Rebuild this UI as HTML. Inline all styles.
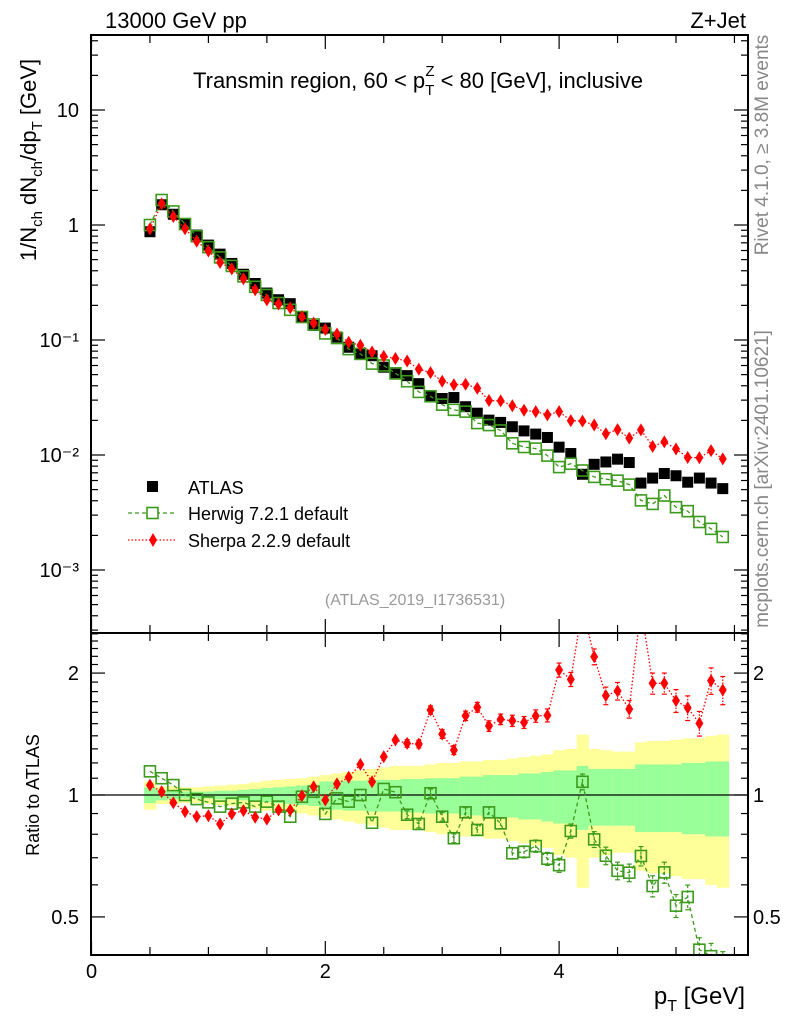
<!DOCTYPE html>
<html><head><meta charset="utf-8"><style>
html,body{margin:0;padding:0;background:#fff}
svg{display:block;font-family:"Liberation Sans",sans-serif}
</style></head><body>
<svg id="c" width="786" height="1024" viewBox="0 0 786 1024" xmlns="http://www.w3.org/2000/svg">
<g id="bands"></g>
<g id="grid"></g>
<g id="series"></g>
<g id="axes"></g>
<text x="105" y="28" font-size="22">13000 GeV pp</text>
<text x="746" y="28" font-size="22" text-anchor="end">Z+Jet</text>
<text x="418" y="88" font-size="22" text-anchor="middle">Transmin region, 60 &lt; p<tspan font-size="15" dy="7">T</tspan><tspan font-size="15" dx="-9" dy="-19">Z</tspan><tspan dy="12"> &lt; 80 [GeV], inclusive</tspan></text>
<text transform="translate(36,160) rotate(-90)" font-size="22" text-anchor="middle">1/N<tspan font-size="15" dy="6">ch</tspan><tspan dy="-6"> dN</tspan><tspan font-size="15" dy="6">ch</tspan><tspan dy="-6">/dp</tspan><tspan font-size="15" dy="6">T</tspan><tspan dy="-6"> [GeV]</tspan></text>
<text transform="translate(39,795) rotate(-90)" font-size="18" text-anchor="middle">Ratio to ATLAS</text>
<text transform="translate(768,145) rotate(-90)" font-size="19" fill="#888" text-anchor="middle">Rivet 4.1.0, ≥ 3.8M events</text>
<text transform="translate(768,479) rotate(-90)" font-size="19" fill="#888" text-anchor="middle">mcplots.cern.ch [arXiv:2401.10621]</text>
<text x="415" y="605" font-size="16" fill="#999" text-anchor="middle">(ATLAS_2019_I1736531)</text>
<text x="745" y="1004" font-size="24" text-anchor="end">p<tspan font-size="16" dy="7">T</tspan><tspan dy="-7"> [GeV]</tspan></text>
<g id="legend">
<g><rect x="147" y="481" width="11" height="11" fill="#000"/><text x="188" y="494" font-size="18">ATLAS</text></g>
<g><line x1="128" y1="513" x2="176" y2="513" stroke="#3c9a1c" stroke-width="1.3" stroke-dasharray="4,3"/><rect x="147" y="507.5" width="11" height="11" fill="#fff" stroke="#3c9a1c" stroke-width="1.6"/><text x="188" y="520" font-size="18">Herwig 7.2.1 default</text></g>
<g><line x1="128" y1="540" x2="176" y2="540" stroke="#f00" stroke-width="1.3" stroke-dasharray="1.5,2"/><path d="M153,533 L157,540 L153,547 L149,540 Z" fill="#f00"/><text x="188" y="547" font-size="18">Sherpa 2.2.9 default</text></g>
</g>
</svg>
<script>
const xVals=[0.5,0.6,0.7,0.8,0.9,1.0,1.1,1.2,1.3,1.4,1.5,1.6,1.7,1.8,1.9,2.0,2.1,2.2,2.3,2.4,2.5,2.6,2.7,2.8,2.9,3.0,3.1,3.2,3.3,3.4,3.5,3.6,3.7,3.8,3.9,4.0,4.1,4.2,4.3,4.4,4.5,4.6,4.7,4.8,4.9,5.0,5.1,5.2,5.3,5.4];
const atlas=[0.874,1.5,1.24,1.02,0.818,0.669,0.558,0.463,0.373,0.31,0.256,0.224,0.207,0.16,0.134,0.127,0.106,0.0865,0.0757,0.073,0.058,0.0505,0.049,0.0417,0.0321,0.031,0.0316,0.0263,0.0231,0.0201,0.0192,0.0176,0.0162,0.0152,0.0142,0.0117,0.0103,0.0068,0.0083,0.0087,0.0092,0.0086,0.0057,0.0063,0.0069,0.0066,0.0058,0.0063,0.0057,0.0051];
const herwigRatio=[1.144,1.10,1.058,1.0,0.977,0.959,0.936,0.952,0.959,0.936,0.963,0.936,0.884,0.99,1.019,0.898,0.981,0.963,1.0,0.854,1.035,1.016,0.894,0.848,1.01,0.884,0.782,0.906,0.82,0.906,0.851,0.718,0.724,0.748,0.696,0.671,0.815,1.078,0.777,0.708,0.65,0.643,0.707,0.596,0.644,0.533,0.56,0.415,0.40,0.38];
const sherpaRatio=[1.058,1.019,0.957,0.91,0.884,0.889,0.848,0.898,0.915,0.881,0.872,0.918,0.918,0.996,1.048,0.972,1.065,1.106,1.19,1.078,1.243,1.367,1.341,1.336,1.621,1.414,1.291,1.569,1.647,1.48,1.538,1.525,1.511,1.567,1.573,2.036,1.93,2.9,2.195,1.759,1.806,1.63,2.9,1.887,1.887,1.71,1.642,1.503,1.916,1.816];
const totErr=[0.08,0.05,0.05,0.045,0.045,0.05,0.055,0.06,0.065,0.075,0.085,0.09,0.095,0.1,0.11,0.12,0.13,0.14,0.15,0.16,0.17,0.18,0.18,0.18,0.19,0.2,0.2,0.21,0.21,0.22,0.22,0.23,0.24,0.25,0.26,0.29,0.3,0.41,0.3,0.29,0.28,0.28,0.35,0.36,0.36,0.37,0.38,0.38,0.4,0.41];
const statErr=[0.045,0.03,0.025,0.02,0.02,0.02,0.025,0.025,0.03,0.035,0.04,0.045,0.05,0.055,0.06,0.08,0.08,0.085,0.085,0.09,0.09,0.09,0.095,0.095,0.1,0.1,0.1,0.11,0.11,0.12,0.12,0.12,0.13,0.13,0.14,0.15,0.15,0.18,0.16,0.16,0.16,0.16,0.19,0.19,0.19,0.19,0.2,0.2,0.21,0.21];
const mcErr=[0.01,0.01,0.01,0.01,0.01,0.01,0.01,0.01,0.01,0.01,0.01,0.01,0.012,0.012,0.013,0.014,0.015,0.016,0.017,0.018,0.02,0.02,0.022,0.022,0.024,0.025,0.025,0.027,0.028,0.03,0.03,0.032,0.034,0.035,0.037,0.04,0.04,0.045,0.045,0.05,0.05,0.05,0.055,0.06,0.06,0.065,0.07,0.07,0.075,0.08];
const xTicks=[0,2,4];
const mainTickLabels=[[1,"10"],[0,"1"],[-1,"10⁻¹"],[-2,"10⁻²"],[-3,"10⁻³"]];
const ratioTicks=[2,1,0.5];

const NS="http://www.w3.org/2000/svg";
const L=91,R=748,T=35,MB=633,RB=955;
const X=v=>91.5+v*116.9;
const Ym=v=>225-115*Math.log10(v);
const Yr=v=>795-405*Math.log10(v);
function mk(tag,at,parent){const e=document.createElementNS(NS,tag);for(const k in at)e.setAttribute(k,at[k]);parent.appendChild(e);return e;}
const bands=document.getElementById('bands'),series=document.getElementById('series'),axes=document.getElementById('axes');
const dx=X(0.1)-X(0);
xVals.forEach((x,i)=>{
  const x0=X(x)-dx/2;
  const lo=Math.max(1-totErr[i],0.402),hi=Math.min(1+totErr[i],2.5);
  let r=mk('rect',{x:x0,y:Yr(hi),width:dx+0.5,height:Yr(lo)-Yr(hi),fill:'#ffff99'},bands);
  
  
  r=mk('rect',{x:x0,y:Yr(1+statErr[i]),width:dx+0.5,height:Yr(1-statErr[i])-Yr(1+statErr[i]),fill:'#99ff99'},bands);
  
  
});
mk('line',{x1:L,y1:Yr(1),x2:R,y2:Yr(1),stroke:'#000','stroke-width':1.3},series);
const defs=mk('defs',{},series);
const cm=mk('clipPath',{id:'cm'},defs);mk('rect',{x:L,y:T,width:R-L,height:MB-T},cm);
const cr=mk('clipPath',{id:'cr'},defs);mk('rect',{x:L,y:MB,width:R-L,height:RB-MB},cr);
const gm=mk('g',{'clip-path':'url(#cm)'},series);
const gr=mk('g',{'clip-path':'url(#cr)'},series);
const herwig=atlas.map((a,i)=>a*herwigRatio[i]);
const sherpa=atlas.map((a,i)=>a*sherpaRatio[i]);
function line(g,vals,Y,col,dash,name){
  const p=mk('polyline',{points:xVals.map((x,i)=>X(x)+','+Y(vals[i])).join(' '),fill:'none',stroke:col,'stroke-width':1.3,'stroke-dasharray':dash},g);
  
  
}
function sq(g,x,y,fill,stroke,name){
  const r=mk('rect',{x:x-5.5,y:y-5.5,width:11,height:11,fill:fill,stroke:stroke,'stroke-width':stroke=='none'?0:1.6},g);
  
  
}
function dia(g,x,y,name){
  const p=mk('path',{d:`M${x},${y-6.5} L${x+4},${y} L${x},${y+6.5} L${x-4},${y} Z`,fill:'#f00'},g);
  
  
}
function ebar(g,x,y1,y2,col,dash){mk('line',{x1:x,y1:y1,x2:x,y2:y2,stroke:col,'stroke-width':1.2,'stroke-dasharray':dash},g);
  mk('line',{x1:x-2.5,y1:y1,x2:x+2.5,y2:y1,stroke:col,'stroke-width':1.2},g);mk('line',{x1:x-2.5,y1:y2,x2:x+2.5,y2:y2,stroke:col,'stroke-width':1.2},g);}
xVals.forEach((x,i)=>sq(gm,X(x),Ym(atlas[i]),'#000','none','atlas-point'));
line(gm,herwig,Ym,'#3c9a1c','4,3','herwig-line');
line(gm,sherpa,Ym,'#f00','1.5,2','sherpa-line');
xVals.forEach((x,i)=>sq(gm,X(x),Ym(herwig[i]),'none','#3c9a1c','herwig-point'));
xVals.forEach((x,i)=>dia(gm,X(x),Ym(sherpa[i]),'sherpa-point'));
line(gr,herwigRatio,Yr,'#3c9a1c','4,3','herwig-ratio-line');
line(gr,sherpaRatio,Yr,'#f00','1.5,2','sherpa-ratio-line');
xVals.forEach((x,i)=>{if(mcErr[i]>0.02){ebar(gr,X(x),Yr(herwigRatio[i]*(1+mcErr[i])),Yr(herwigRatio[i]*(1-mcErr[i])),'#3c9a1c','3,2');ebar(gr,X(x),Yr(sherpaRatio[i]*(1+mcErr[i])),Yr(sherpaRatio[i]*(1-mcErr[i])),'#f00','1.5,1.5');}});
xVals.forEach((x,i)=>sq(gr,X(x),Yr(herwigRatio[i]),'none','#3c9a1c','herwig-ratio-point'));
xVals.forEach((x,i)=>dia(gr,X(x),Yr(sherpaRatio[i]),'sherpa-ratio-point'));
let fr=mk('rect',{x:L,y:T,width:R-L,height:MB-T,fill:'none',stroke:'#000','stroke-width':2},axes);


fr=mk('rect',{x:L,y:MB,width:R-L,height:RB-MB,fill:'none',stroke:'#000','stroke-width':2},axes);


function tk(x1,y1,x2,y2){mk('line',{x1,y1,x2,y2,stroke:'#000','stroke-width':1.2},axes);}
for(let v=0;v<=5.6;v+=0.5){const x=X(v);if(x>R)break;const big=Math.abs(v%2)<1e-6;const len=big?14:8;
  tk(x,MB,x,MB-len);tk(x,T,x,T+len);tk(x,MB,x,MB+len);tk(x,RB,x,RB-len);}
xTicks.forEach(v=>{const t=mk('text',{x:X(v),y:978,'font-size':20,'text-anchor':'middle'},axes);t.textContent=v;
  });
for(let d=-4;d<=1;d++){for(let m=1;m<10;m++){const v=m*Math.pow(10,d);const y=Ym(v);if(y<T||y>MB)continue;const len=m==1?14:7;tk(L,y,L+len,y);tk(R,y,R-len,y);}}
mainTickLabels.forEach(([e,s])=>{const t=mk('text',{x:79,y:Ym(Math.pow(10,e))+7,'font-size':20,'text-anchor':'end'},axes);t.textContent=s;
  });
[0.5,0.6,0.7,0.8,0.9,1,1.1,1.2,1.3,1.4,1.5,1.6,1.7,1.8,1.9,2,2.1,2.2,2.3,2.4,2.5].forEach(v=>{const y=Yr(v);if(y<MB||y>RB)return;const len=(v==0.5||v==1||v==2)?14:7;tk(L,y,L+len,y);tk(R,y,R-len,y);});
ratioTicks.forEach(v=>{let t=mk('text',{x:79,y:Yr(v)+7,'font-size':20,'text-anchor':'end'},axes);t.textContent=v;
  
  t=mk('text',{x:753,y:Yr(v)+7,'font-size':20},axes);t.textContent=v;
  });
</script>
</body></html>
